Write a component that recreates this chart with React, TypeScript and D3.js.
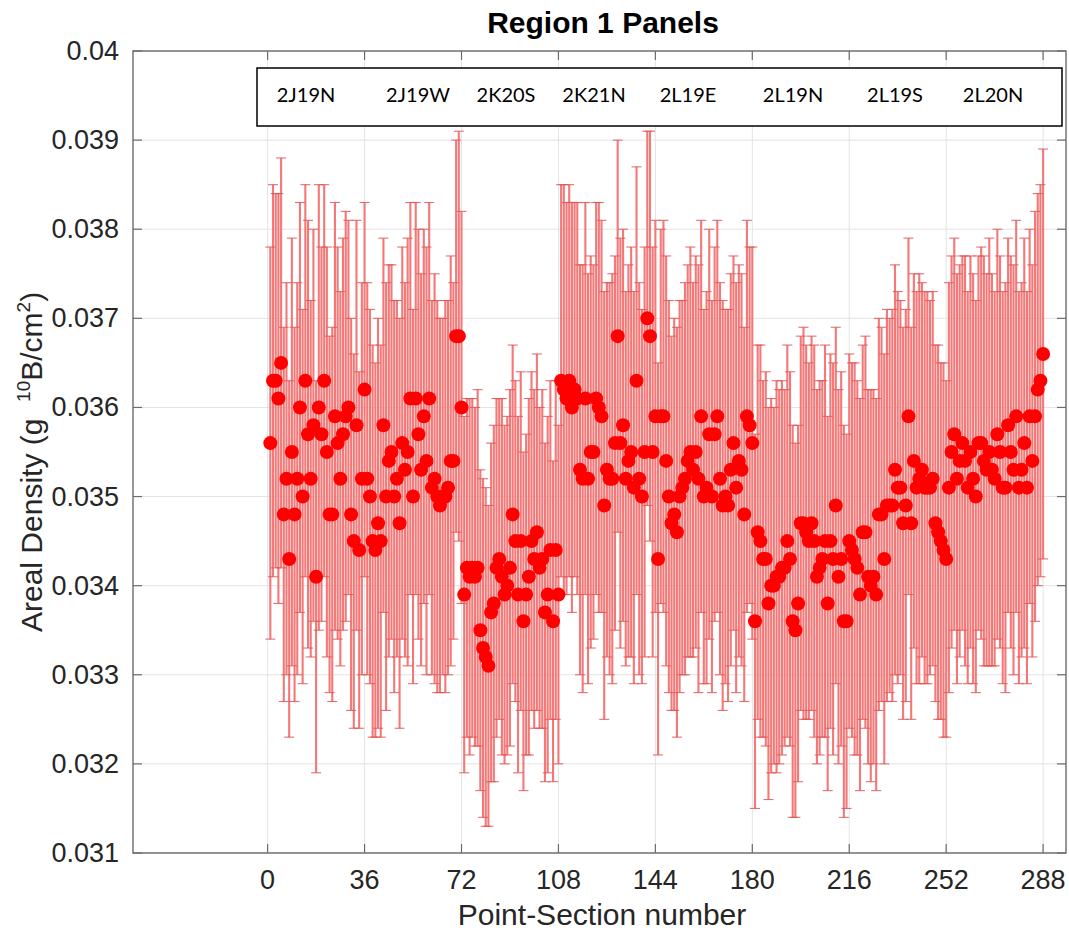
import React from "react";
import * as d3 from "d3";

// ---- data (Point-Section number 1..288, areal density g 10B/cm^2) ----
const panelNames = ["2J19N", "2J19W", "2K20S", "2K21N", "2L19E", "2L19N", "2L19S", "2L20N"];
const xTicks = [0, 36, 72, 108, 144, 180, 216, 252, 288];
const yTicks = [0.031, 0.032, 0.033, 0.034, 0.035, 0.036, 0.037, 0.038, 0.039, 0.04];

const panel1 = [0.0356,0.0363,0.0363,0.0361,0.0365,0.0348,0.0352,0.0343,0.0355,0.0348,0.0352,0.0360,0.0350,0.0363,0.0357,0.0352,0.0358,0.0341,0.0360,0.0357,0.0363,0.0355,0.0348,0.0348,0.0359,0.0356,0.0352,0.0357,0.0359,0.0360,0.0348,0.0345,0.0358,0.0344,0.0352,0.0362];
const panel2 = [0.0352,0.0350,0.0345,0.0344,0.0347,0.0345,0.0358,0.0350,0.0354,0.0355,0.0350,0.0352,0.0347,0.0356,0.0353,0.0355,0.0361,0.0350,0.0361,0.0357,0.0353,0.0359,0.0354,0.0361,0.0351,0.0352,0.0350,0.0349,0.0350,0.0350,0.0351,0.0354,0.0354,0.0368,0.0368,0.0360];
const panel3 = [0.0339,0.0342,0.0341,0.0342,0.0341,0.0342,0.0335,0.0333,0.0332,0.0331,0.0337,0.0338,0.0342,0.0343,0.0341,0.0339,0.0340,0.0342,0.0348,0.0345,0.0339,0.0345,0.0336,0.0339,0.0341,0.0345,0.0343,0.0346,0.0342,0.0343,0.0337,0.0339,0.0344,0.0336,0.0344,0.0339];
const panel4 = [0.0363,0.0362,0.0361,0.0363,0.0360,0.0362,0.0361,0.0353,0.0352,0.0361,0.0352,0.0355,0.0355,0.0361,0.0360,0.0359,0.0349,0.0353,0.0352,0.0352,0.0356,0.0368,0.0356,0.0358,0.0352,0.0354,0.0355,0.0351,0.0363,0.0352,0.0350,0.0355,0.0370,0.0368,0.0355,0.0359];
const panel5 = [0.0343,0.0359,0.0359,0.0354,0.0350,0.0347,0.0348,0.0346,0.0350,0.0351,0.0352,0.0354,0.0355,0.0353,0.0355,0.0352,0.0359,0.0350,0.0351,0.0357,0.0350,0.0357,0.0359,0.0352,0.0349,0.0350,0.0349,0.0353,0.0356,0.0351,0.0354,0.0353,0.0348,0.0359,0.0358,0.0356];
const panel6 = [0.0336,0.0346,0.0345,0.0343,0.0343,0.0338,0.0340,0.0340,0.0341,0.0341,0.0342,0.0342,0.0345,0.0343,0.0336,0.0335,0.0338,0.0347,0.0347,0.0346,0.0345,0.0347,0.0345,0.0341,0.0342,0.0343,0.0345,0.0338,0.0345,0.0343,0.0349,0.0341,0.0343,0.0336,0.0336,0.0345];
const panel7 = [0.0344,0.0343,0.0342,0.0339,0.0346,0.0346,0.0341,0.0340,0.0341,0.0339,0.0348,0.0348,0.0343,0.0349,0.0349,0.0349,0.0353,0.0351,0.0351,0.0347,0.0349,0.0359,0.0347,0.0354,0.0351,0.0352,0.0353,0.0351,0.0351,0.0351,0.0352,0.0347,0.0346,0.0345,0.0344,0.0343];
const panel8 = [0.0351,0.0355,0.0357,0.0352,0.0354,0.0356,0.0354,0.0351,0.0355,0.0352,0.0350,0.0356,0.0356,0.0354,0.0353,0.0355,0.0353,0.0352,0.0357,0.0355,0.0351,0.0351,0.0358,0.0355,0.0353,0.0359,0.0351,0.0353,0.0356,0.0351,0.0359,0.0354,0.0359,0.0362,0.0363,0.0366];

const err1 = [0.0022,0.0022,0.0021,0.0023,0.0023,0.0021,0.0022,0.0020,0.0024,0.0021,0.0022,0.0023,0.0021,0.0022,0.0024,0.0020,0.0022,0.0022,0.0025,0.0021,0.0022,0.0023,0.0020,0.0021,0.0024,0.0022,0.0021,0.0022,0.0023,0.0021,0.0022,0.0021,0.0023,0.0020,0.0022,0.0021];
const err2 = [0.0022,0.0021,0.0022,0.0021,0.0023,0.0022,0.0021,0.0024,0.0022,0.0021,0.0022,0.0020,0.0023,0.0022,0.0021,0.0024,0.0022,0.0021,0.0022,0.0023,0.0022,0.0021,0.0024,0.0022,0.0021,0.0023,0.0022,0.0021,0.0020,0.0022,0.0021,0.0023,0.0020,0.0022,0.0023,0.0022];
const err3 = [0.0020,0.0019,0.0020,0.0019,0.0019,0.0020,0.0018,0.0019,0.0019,0.0018,0.0019,0.0020,0.0019,0.0018,0.0020,0.0019,0.0019,0.0020,0.0019,0.0018,0.0020,0.0019,0.0019,0.0018,0.0020,0.0019,0.0019,0.0020,0.0018,0.0019,0.0019,0.0020,0.0019,0.0018,0.0019,0.0019];
const err4 = [0.0022,0.0023,0.0022,0.0022,0.0023,0.0021,0.0022,0.0023,0.0024,0.0022,0.0023,0.0022,0.0021,0.0022,0.0023,0.0022,0.0024,0.0021,0.0022,0.0023,0.0021,0.0022,0.0023,0.0022,0.0021,0.0022,0.0023,0.0022,0.0024,0.0022,0.0021,0.0023,0.0021,0.0023,0.0023,0.0022];
const err5 = [0.0022,0.0021,0.0022,0.0023,0.0022,0.0021,0.0022,0.0023,0.0022,0.0021,0.0022,0.0022,0.0023,0.0021,0.0022,0.0024,0.0022,0.0021,0.0022,0.0023,0.0022,0.0021,0.0022,0.0022,0.0023,0.0021,0.0022,0.0022,0.0021,0.0023,0.0022,0.0022,0.0021,0.0022,0.0020,0.0022];
const err6 = [0.0021,0.0021,0.0022,0.0020,0.0021,0.0022,0.0021,0.0020,0.0022,0.0021,0.0021,0.0020,0.0022,0.0021,0.0022,0.0021,0.0020,0.0021,0.0022,0.0021,0.0020,0.0021,0.0022,0.0021,0.0021,0.0020,0.0022,0.0021,0.0021,0.0022,0.0020,0.0021,0.0021,0.0022,0.0021,0.0021];
const err7 = [0.0021,0.0022,0.0021,0.0022,0.0021,0.0022,0.0021,0.0022,0.0021,0.0022,0.0022,0.0021,0.0023,0.0022,0.0021,0.0022,0.0023,0.0022,0.0021,0.0022,0.0022,0.0020,0.0022,0.0021,0.0022,0.0023,0.0021,0.0022,0.0022,0.0021,0.0021,0.0020,0.0021,0.0020,0.0021,0.0020];
const err8 = [0.0023,0.0022,0.0022,0.0023,0.0022,0.0021,0.0023,0.0022,0.0022,0.0023,0.0022,0.0021,0.0022,0.0023,0.0022,0.0024,0.0022,0.0021,0.0023,0.0022,0.0022,0.0023,0.0021,0.0022,0.0023,0.0022,0.0022,0.0021,0.0023,0.0022,0.0021,0.0022,0.0023,0.0022,0.0022,0.0023];

const values = [...panel1, ...panel2, ...panel3, ...panel4, ...panel5, ...panel6, ...panel7, ...panel8];
const errors = [...err1, ...err2, ...err3, ...err4, ...err5, ...err6, ...err7, ...err8];
const points = values.map((v, i) => ({ n: i + 1, v, e: errors[i] }));

// ---- layout ----
const W = 1069, H = 936;
const plot = { left: 133, right: 1066, top: 51, bottom: 853 };
const legendBox = { x: 257, y: 68, w: 805, h: 58 };
const legendCenters = [306, 418, 506, 594, 688, 793, 895, 993];
const font = "'Liberation Sans', Arial, Helvetica, sans-serif";

export default function App() {
  const x = d3.scaleLinear().domain([-50, 296.5]).range([plot.left, plot.right]);
  const y = d3.scaleLinear().domain([0.031, 0.04]).range([plot.bottom, plot.top]);
  const cap = 5;
  const tickLen = 9;
  const axisColor = "#6b6b6b";
  const textColor = "#262626";
  const barColor = "#f47878";

  return (
    <svg width={W} height={H} style={{ position: "absolute", left: 0, top: 0, background: "#fff" }}>
      <rect x={0} y={0} width={W} height={H} fill="#fff" />
      {/* grid */}
      <g stroke="#e3e3e3" strokeWidth={1}>
        {xTicks.map((t) => (
          <line key={"gx" + t} x1={x(t)} x2={x(t)} y1={plot.top} y2={plot.bottom} />
        ))}
        {yTicks.map((t) => (
          <line key={"gy" + t} x1={plot.left} x2={plot.right} y1={y(t)} y2={y(t)} />
        ))}
      </g>

      {/* error bars */}
      <g stroke={barColor} strokeWidth={2.1}>
        {points.map((p) => (
          <line key={"eb" + p.n} x1={x(p.n)} x2={x(p.n)} y1={y(p.v + p.e)} y2={y(p.v - p.e)} />
        ))}
      </g>
      <g stroke="#e05656" strokeOpacity={0.85} strokeWidth={1.1}>
        {points.map((p) => (
          <g key={"cap" + p.n}>
            <line x1={x(p.n) - cap} x2={x(p.n) + cap} y1={y(p.v + p.e)} y2={y(p.v + p.e)} />
            <line x1={x(p.n) - cap} x2={x(p.n) + cap} y1={y(p.v - p.e)} y2={y(p.v - p.e)} />
          </g>
        ))}
      </g>

      {/* markers */}
      <g fill="#ff0000">
        {points.map((p) => (
          <circle key={"pt" + p.n} cx={x(p.n)} cy={y(p.v)} r={7} />
        ))}
      </g>

      {/* axes box */}
      <rect x={plot.left} y={plot.top} width={plot.right - plot.left} height={plot.bottom - plot.top} fill="none" stroke={axisColor} strokeWidth={1.4} />
      <g stroke={axisColor} strokeWidth={1.2}>
        {xTicks.map((t) => (
          <g key={"tx" + t}>
            <line x1={x(t)} x2={x(t)} y1={plot.bottom} y2={plot.bottom - tickLen} />
            <line x1={x(t)} x2={x(t)} y1={plot.top} y2={plot.top + tickLen} />
          </g>
        ))}
        {yTicks.map((t) => (
          <g key={"ty" + t}>
            <line x1={plot.left} x2={plot.left + tickLen} y1={y(t)} y2={y(t)} />
            <line x1={plot.right} x2={plot.right - tickLen} y1={y(t)} y2={y(t)} />
          </g>
        ))}
      </g>

      {/* tick labels */}
      <g fontFamily={font} fontSize={27} fill={textColor}>
        {xTicks.map((t) => (
          <text key={"lx" + t} x={x(t)} y={plot.bottom + 36} textAnchor="middle">{t}</text>
        ))}
        {yTicks.map((t) => (
          <text key={"ly" + t} x={plot.left - 14} y={y(t) + 9} textAnchor="end">{d3.format("")(+t.toFixed(3))}</text>
        ))}
      </g>

      {/* axis titles */}
      <text x={602} y={925} textAnchor="middle" fontFamily={font} fontSize={30} fill={textColor}>
        Point-Section number
      </text>
      <text transform={`translate(42, 632) rotate(-90)`} textAnchor="start" fontFamily={font} fontSize={30} fill={textColor} style={{ whiteSpace: "pre" }}>
        {"Areal Density (g  "}<tspan fontSize={19} dy={-12}>10</tspan><tspan dy={12}>B/cm</tspan><tspan fontSize={19} dy={-12}>2</tspan><tspan dy={12}>)</tspan>
      </text>

      {/* title */}
      <text x={603} y={33} textAnchor="middle" fontFamily={font} fontSize={30} fontWeight="bold" fill="#000">
        Region 1 Panels
      </text>

      {/* panel label box */}
      <rect x={legendBox.x} y={legendBox.y} width={legendBox.w} height={legendBox.h} fill="#fff" stroke="#000" strokeWidth={1.5} />
      <g fontFamily="Lato, 'Open Sans', sans-serif" fontSize={20} fill="#000">
        {panelNames.map((nm, i) => (
          <text key={nm} x={legendCenters[i]} y={legendBox.y + 34} textAnchor="middle">{nm}</text>
        ))}
      </g>
    </svg>
  );
}
